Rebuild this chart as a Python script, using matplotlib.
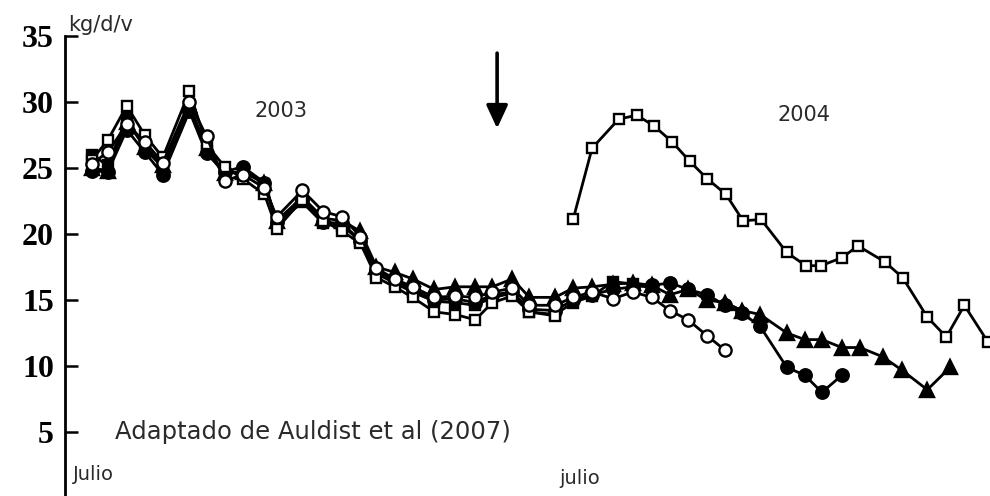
import matplotlib
matplotlib.use("Agg")
import matplotlib.pyplot as plt

# Sampling positions (weeks from early July 2003)
semanas_2003 = [2.8, 4.5, 6.5, 8.4, 10.3, 13.1, 14.9, 16.8, 18.7, 21.0,
                22.3, 25.0, 27.2, 29.2, 31.1, 32.8, 34.7, 36.6, 38.9, 41.1,
                43.2, 45.0, 47.1, 48.9, 51.6, 53.5, 55.5, 57.7, 59.8, 61.8,
                63.7, 65.6, 67.6, 69.5, 71.3, 73.2, 76.0, 77.9, 79.7, 81.8,
                83.7, 86.1, 88.1, 90.8, 93.2]
semanas_2004 = [53.5, 55.5, 58.3, 60.2, 62.0, 63.9, 65.8, 67.6, 69.6, 71.4,
                73.3, 76.0, 78.0, 79.6, 81.8, 83.5, 86.3, 88.2, 90.8, 92.8,
                94.7, 97.2]

# Milk yield, kg/cow/day
cuad_abierto_2003 = [25.6, 27.1, 29.7, 27.5, 25.8, 30.8, 26.8, 25.1, 24.2, 23.0,
                     20.4, 22.6, 21.0, 20.2, 19.3, 16.7, 16.0, 15.2, 14.1, 13.9,
                     13.5, 14.8, 15.3, 14.1, 13.8]
cuad_lleno = [26.0, 25.2, 28.8, 26.5, 25.0, 29.6, 26.3, 24.5, 24.8, 23.8,
              20.8, 22.4, 20.8, 20.6, 19.5, 17.0, 16.3, 15.6, 14.9, 14.8,
              14.6, 15.2, 15.5, 14.1, 13.9, 14.8, 15.3, 16.4, 16.2, 15.9]
circ_abierto = [25.3, 26.2, 28.3, 27.0, 25.4, 30.0, 27.4, 24.0, 24.5, 23.5,
                21.3, 23.3, 21.7, 21.3, 19.8, 17.4, 16.6, 16.0, 15.2, 15.3,
                15.2, 15.6, 15.9, 14.6, 14.6, 15.2, 15.6, 15.1, 15.6, 15.2,
                14.2, 13.5, 12.3, 11.2]
circ_lleno = [24.8, 24.7, 27.9, 26.2, 24.5, 29.3, 26.1, 24.7, 25.1, 23.9,
              20.9, 22.6, 20.9, 20.8, 19.5, 17.2, 16.5, 15.8, 15.0, 15.1,
              14.8, 15.4, 15.6, 14.3, 14.2, 15.0, 15.4, 15.8, 16.0, 16.1,
              16.3, 15.8, 15.4, 14.6, 14.0, 13.0, 9.9, 9.3, 8.0, 9.3]
triangulo = [25.0, 24.8, 28.5, 26.6, 25.2, 29.8, 26.5, 24.6, 24.7, 23.9,
             21.0, 22.8, 21.2, 21.0, 20.2, 17.5, 17.1, 16.6, 15.8, 16.0,
             16.0, 16.0, 16.6, 15.2, 15.2, 15.9, 16.0, 16.2, 16.3, 16.1,
             15.4, 15.8, 15.0, 14.8, 14.2, 13.9, 12.5, 12.0, 12.0, 11.4,
             11.4, 10.7, 9.7, 8.2, 9.9]
cuad_abierto_2004 = [21.1, 26.5, 28.7, 29.0, 28.2, 27.0, 25.5, 24.2, 23.0, 21.0,
                     21.1, 18.6, 17.6, 17.6, 18.2, 19.1, 17.9, 16.7, 13.7, 12.2,
                     14.6, 11.8]

y_ticks = [5, 10, 15, 20, 25, 30, 35]

fig = plt.figure(figsize=(9.9, 4.96), dpi=100)
ax = fig.add_axes([65 / 990, -2 / 496, 1 - 65 / 990, 462 / 496])

lw = 2.0
mew = 1.7
common = dict(color="black", linewidth=lw, markeredgewidth=mew,
              markeredgecolor="black", clip_on=False)

ax.plot(semanas_2003[:len(triangulo)], triangulo, marker="^", markersize=9.5,
        markerfacecolor="black", zorder=3, **common)
ax.plot(semanas_2003[:len(circ_lleno)], circ_lleno, marker="o", markersize=9,
        markerfacecolor="black", zorder=4, **common)
ax.plot(semanas_2003[:len(cuad_lleno)], cuad_lleno, marker="s", markersize=7.8,
        markerfacecolor="black", zorder=5, **common)
ax.plot(semanas_2003[:len(cuad_abierto_2003)], cuad_abierto_2003, marker="s",
        markersize=7.8, markerfacecolor="white", zorder=6, **common)
ax.plot(semanas_2003[:len(circ_abierto)], circ_abierto, marker="o",
        markersize=8.8, markerfacecolor="white", zorder=7, **common)
ax.plot(semanas_2004, cuad_abierto_2004, marker="s", markersize=7.8,
        markerfacecolor="white", zorder=6, **common)

ax.set_xlim(0, 97.4)
ax.set_ylim(0, 35)

for side in ("top", "right", "bottom"):
    ax.spines[side].set_visible(False)
ax.spines["left"].set_linewidth(2.0)

ax.set_xticks([])
ax.set_yticks(y_ticks)
ax.set_yticklabels([str(t) for t in y_ticks])
ax.tick_params(axis="y", direction="in", length=9.5, width=1.8, pad=8)
for lab in ax.get_yticklabels():
    lab.set_fontfamily("Liberation Serif")
    lab.set_fontweight("bold")
    lab.set_fontsize(23)

txt = dict(family="DejaVu Sans", color="#2a2a2a", transform=ax.transData)
ax.text(0.3, 35.1, "kg/d/v", fontsize=15, ha="left", va="bottom", **txt)
ax.text(20.0, 29.3, "2003", fontsize=15, ha="left", va="center", **txt)
ax.text(75.0, 29.0, "2004", fontsize=15, ha="left", va="center", **txt)
ax.text(5.3, 5.0, "Adaptado de Auldist et al (2007)", fontsize=17.5,
        ha="left", va="center", **txt)
ax.text(0.8, 1.75, "Julio", fontsize=14, ha="left", va="center", **txt)
ax.text(52.0, 1.5, "julio", fontsize=14, ha="left", va="center", **txt)

# Arrow marking the start of the extended period
ax.annotate("", xy=(45.5, 28.0), xytext=(45.5, 33.7),
            arrowprops=dict(arrowstyle="-|>,head_length=1.4,head_width=0.65",
                            color="black", linewidth=2.6,
                            shrinkA=0, shrinkB=0))

fig.savefig("out.png", dpi=100)
